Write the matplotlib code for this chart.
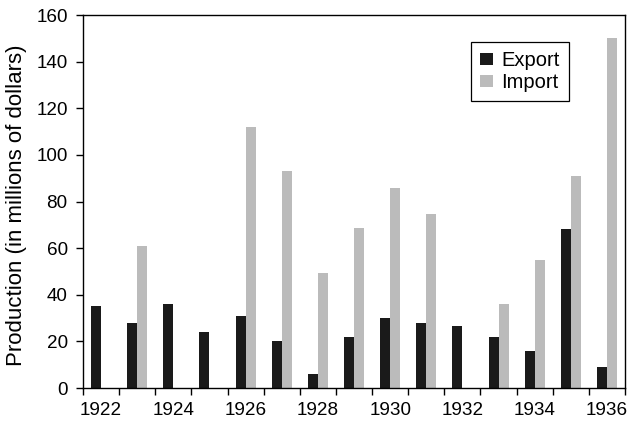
import matplotlib
matplotlib.use("Agg")
import matplotlib.pyplot as plt
import numpy as np

plt.rcParams['font.family'] = ['Liberation Sans', 'DejaVu Sans']

years = list(range(1922, 1937))
export = [35, 28, 36, 24, 31, 20, 6, 22, 30, 28, 26.5, 22, 16, 68, 9]
imports = [0, 61, 0, 0, 112, 93, 49.5, 68.5, 86, 74.5, 0, 36, 55, 91, 150]
tick_labels = [str(y) for y in years[::2]]

fig = plt.figure(figsize=(6.4, 4.25), dpi=100)
ax = fig.add_axes([0.1297, 0.087, 0.8469, 0.8777])

x = np.arange(len(years))
w = 0.277
ax.bar(x - w / 2, export, width=w, color='#1a1a1a', label='Export')
ax.bar(x + w / 2, imports, width=w, color='#bbbbbb', label='Import')

ax.set_xlim(-0.5, len(years) - 0.5)
ax.set_ylim(0, 160)
ax.set_yticks(range(0, 161, 20))

ax.set_xticks(np.arange(-0.5, len(years), 1.0))
ax.set_xticklabels([])
ax.set_xticks(x[::2], minor=True)
ax.set_xticklabels(tick_labels, minor=True)
ax.tick_params(axis='x', which='minor', length=0, labelsize=13.6, pad=10)
ax.tick_params(axis='x', which='major', length=5, width=1, direction='out')
ax.tick_params(axis='y', length=5, width=1, direction='out', labelsize=13.6, pad=6)

for s in ax.spines.values():
    s.set_linewidth(1.0)
    s.set_color('black')

ax.set_ylabel('Production (in millions of dollars)', fontsize=16)
ax.yaxis.set_label_coords(-0.104, 0.49)

leg = ax.legend(loc='upper right', bbox_to_anchor=(0.8967, 0.9276), borderaxespad=0,
                fontsize=14.5, frameon=True, fancybox=False, edgecolor='black',
                framealpha=1, handlelength=0.6, handleheight=0.6, handletextpad=0.45,
                borderpad=0.45, labelspacing=0.15)
leg.get_frame().set_linewidth(0.9)

fig.savefig('out.png', dpi=100)
